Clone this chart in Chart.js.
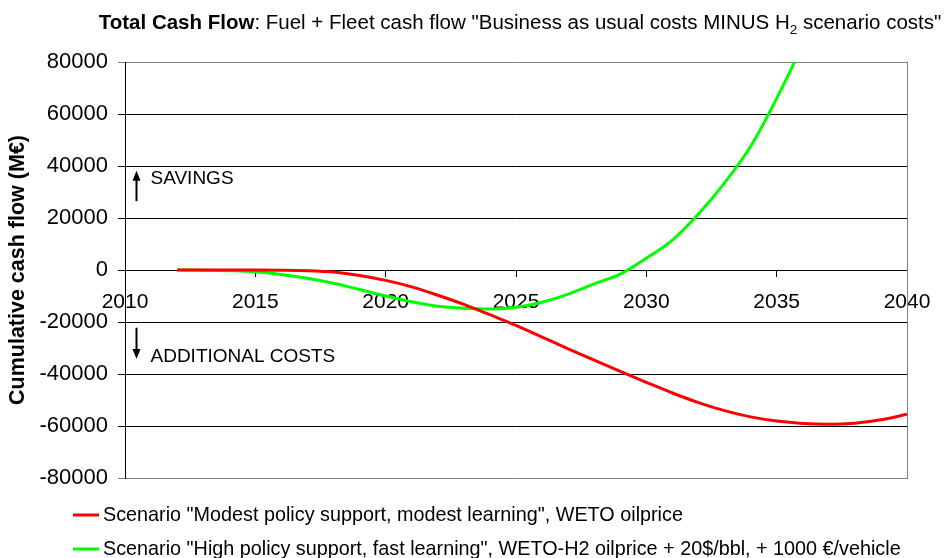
<!DOCTYPE html>
<html><head><meta charset="utf-8">
<script src="https://cdn.jsdelivr.net/npm/chart.js@4/dist/chart.umd.min.js"></script>
<style>html,body{margin:0;padding:0;background:#fff}#wrap{width:950px;height:558px;position:relative}</style>
</head><body><div id="wrap"><canvas id="c" width="950" height="558"></canvas></div>
<script>
// ---- data ----
const modestYears = [2012,2013,2014,2015,2016,2017,2018,2019,2020,2021,2022,2023,2024,2025,2026,2027,2028,2029,2030,2031,2032,2033,2034,2035,2036,2037,2038,2039,2040];
const modestValues = [0,0,0,0,-50,-250,-800,-2100,-4000,-6500,-9700,-13200,-17200,-21300,-25800,-30300,-34700,-39000,-43200,-47300,-51000,-54100,-56500,-58100,-59000,-59300,-58900,-57600,-55500];
const highYears = [2012,2013,2014,2015,2016,2017,2018,2019,2020,2021,2022,2023,2024,2025,2026,2027,2028,2029,2030,2031,2032,2033,2034,2035,2036,2037];
const highValues = [0,-50,-250,-650,-1700,-3200,-5100,-7500,-10000,-12200,-13900,-14700,-15000,-14300,-12400,-9300,-5300,-1600,4500,11500,21500,33500,47500,66000,87000,112000];
const xTickValues = [2010,2015,2020,2025,2030,2035,2040];
const yTickValues = [-80000,-60000,-40000,-20000,0,20000,40000,60000,80000];
const seriesLabels = ['Scenario "Modest policy support, modest learning", WETO oilprice',
  'Scenario "High policy support, fast learning", WETO-H2 oilprice + 20$/bbl, + 1000 €/vehicle'];
const titleBold = 'Total Cash Flow';
const titleRest = ': Fuel + Fleet cash flow "Business as usual costs MINUS H';
const titleSub = '2';
const titleEnd = ' scenario costs"';
const yAxisTitle = 'Cumulative cash flow (M€)';
const noteUp = 'SAVINGS';
const noteDown = 'ADDITIONAL COSTS';

const FONT = '"Liberation Sans", Arial, sans-serif';
const toPts = (xs, ys) => xs.map((x, i) => ({x: x, y: ys[i]}));

const decor = {
  id: 'decor',
  beforeDatasetsDraw(chart) {
    const {ctx, chartArea: a} = chart;
    ctx.save();
    ctx.strokeStyle = '#808080'; ctx.lineWidth = 1;
    ctx.beginPath();
    ctx.moveTo(Math.round(a.right) + 0.5, a.top);
    ctx.lineTo(Math.round(a.right) + 0.5, a.bottom + 1);
    ctx.stroke();
    ctx.restore();
  },
  afterDraw(chart) {
    const {ctx, chartArea: a, scales} = chart;
    ctx.save();
    // title
    ctx.fillStyle = '#000';
    ctx.textBaseline = 'alphabetic';
    ctx.textAlign = 'left';
    const fb = 'bold 20.5px ' + FONT, fr = '20.5px ' + FONT, fs = '13.5px ' + FONT;
    ctx.font = fb; const w1 = ctx.measureText(titleBold).width;
    ctx.font = fr; const w2 = ctx.measureText(titleRest).width;
    ctx.font = fs; const w3 = ctx.measureText(titleSub).width;
    ctx.font = fr; const w4 = ctx.measureText(titleEnd).width;
    const total = w1 + w2 + w3 + w4;
    let x = 520 - total / 2; const by = 29;
    ctx.font = fb; ctx.fillText(titleBold, x, by); x += w1;
    ctx.font = fr; ctx.fillText(titleRest, x, by); x += w2;
    ctx.font = fs; ctx.fillText(titleSub, x, by + 5); x += w3;
    ctx.font = fr; ctx.fillText(titleEnd, x, by);

    // annotations
    const ax = a.left + 11.5;
    const ys = scales.y;
    const arrow = (y1, y2) => {
      ctx.strokeStyle = '#000'; ctx.lineWidth = 2;
      const d = y2 < y1 ? 1 : -1;
      ctx.beginPath(); ctx.moveTo(ax, y1); ctx.lineTo(ax, y2 + d * 6); ctx.stroke();
      ctx.beginPath();
      ctx.moveTo(ax, y2); ctx.lineTo(ax - 4, y2 + d * 10); ctx.lineTo(ax + 4, y2 + d * 10); ctx.closePath();
      ctx.fillStyle = '#000'; ctx.fill();
    };
    arrow(ys.getPixelForValue(26500), ys.getPixelForValue(38200));
    arrow(ys.getPixelForValue(-22200), ys.getPixelForValue(-34200));
    ctx.font = '19px ' + FONT; ctx.fillStyle = '#000';
    ctx.fillText(noteUp, a.left + 25.5, ys.getPixelForValue(33000));
    ctx.fillText(noteDown, a.left + 25.5, ys.getPixelForValue(-35300));

    // legend
    const rows = [a.bottom + 37, a.bottom + 71];
    chart.data.datasets.forEach((ds, i) => {
      const y = rows[i];
      ctx.strokeStyle = ds.borderColor; ctx.lineWidth = 3;
      ctx.beginPath(); ctx.moveTo(73, y); ctx.lineTo(99, y); ctx.stroke();
      ctx.fillStyle = '#000'; ctx.font = '19.8px ' + FONT; ctx.textBaseline = 'middle';
      ctx.fillText(ds.label, 103, y + 1);
    });
    ctx.restore();
  }
};

new Chart(document.getElementById('c'), {
  type: 'line',
  data: {
    datasets: [
      {label: seriesLabels[0], data: toPts(modestYears, modestValues), borderColor: '#FF0000', backgroundColor: '#FF0000', borderWidth: 3, pointRadius: 0, cubicInterpolationMode: 'monotone', fill: false},
      {label: seriesLabels[1], data: toPts(highYears, highValues), borderColor: '#00FF00', backgroundColor: '#00FF00', borderWidth: 3, pointRadius: 0, cubicInterpolationMode: 'monotone', fill: false}
    ]
  },
  options: {
    responsive: false,
    animation: false,
    devicePixelRatio: 1,
    layout: {padding: {top: 62, bottom: 80, right: 43, left: 0}},
    plugins: {legend: {display: false}, title: {display: false}, tooltip: {enabled: false}},
    scales: {
      x: {
        type: 'linear', position: {y: 0}, min: 2010, max: 2040,
        afterBuildTicks: s => { s.ticks = xTickValues.map(v => ({value: v})); },
        ticks: {color: '#000', font: {family: FONT, size: 21}, padding: 14, maxRotation: 0, autoSkip: false, callback: v => String(v)},
        grid: {drawOnChartArea: false, drawTicks: true, tickLength: 6, color: '#000'},
        border: {display: true, color: '#000', width: 1}
      },
      y: {
        min: -80000, max: 80000,
        afterBuildTicks: s => { s.ticks = yTickValues.map(v => ({value: v})); },
        afterFit: s => { s.width = 125; },
        ticks: {color: '#000', font: {family: FONT, size: 22}, padding: 10, callback: v => String(v)},
        grid: {color: c => (c.tick && Math.abs(c.tick.value) === 80000) ? '#808080' : '#000', tickLength: 7, lineWidth: 1},
        border: {display: true, color: '#000', width: 1},
        title: {display: true, text: yAxisTitle, color: '#000', font: {family: FONT, size: 21.5, weight: 'bold'}, padding: {top: 5, bottom: 0}}
      }
    }
  },
  plugins: [decor]
});
</script>
</body></html>
